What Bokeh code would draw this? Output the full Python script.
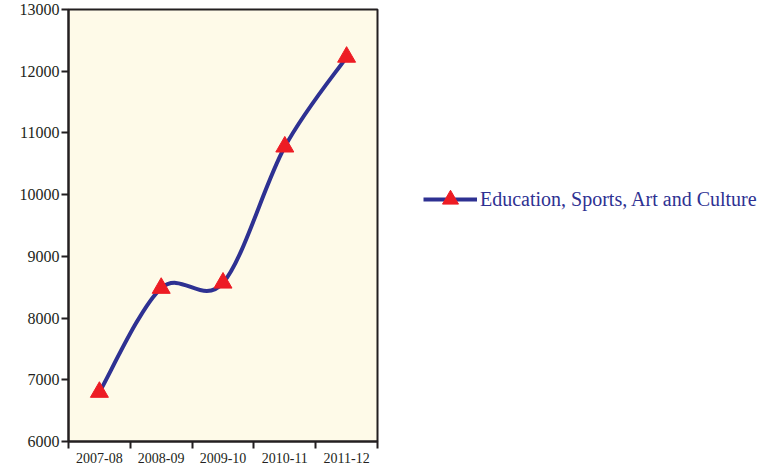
from bokeh.plotting import figure
from bokeh.models import Range1d, FixedTicker, Legend, LegendItem
from bokeh.embed import file_html
from bokeh.resources import INLINE

categories = ["2007-08", "2008-09", "2009-10", "2010-11", "2011-12"]
values = [6800, 8485, 8570, 10775, 12230]
y_ticks = [6000, 7000, 8000, 9000, 10000, 11000, 12000, 13000]
series_name = "Education, Sports, Art and Culture"

LINE = "#2E3192"
MARK = "#ED1C24"
SERIF = "Liberation Serif"

xs = [i + 0.5 for i in range(len(categories))]

p = figure(frame_width=309, frame_height=432, output_backend="svg", toolbar_location=None,
           x_range=Range1d(0, len(categories)), y_range=Range1d(6000, 13000),
           min_border_left=68, min_border_right=4, min_border_top=9, min_border_bottom=20)
p.background_fill_color = "#FEFAE8"
p.border_fill_color = "white"
p.outline_line_color = "#231F20"
p.outline_line_width = 2
p.grid.visible = False

# smooth line (Catmull-Rom style Bezier segments built from the data)
n = len(xs)
x0, y0, x1, y1, cx0, cy0, cx1, cy1 = [], [], [], [], [], [], [], []
for i in range(n - 1):
    pm = i - 1 if i > 0 else i
    pp = i + 2 if i + 2 < n else i + 1
    x0.append(xs[i]); y0.append(values[i])
    x1.append(xs[i + 1]); y1.append(values[i + 1])
    cx0.append(xs[i] + (xs[i + 1] - xs[pm]) / 6)
    cy0.append(values[i] + (values[i + 1] - values[pm]) / 6)
    cx1.append(xs[i + 1] - (xs[pp] - xs[i]) / 6)
    cy1.append(values[i + 1] - (values[pp] - values[i]) / 6)
curve = p.bezier(x0=x0, y0=y0, x1=x1, y1=y1, cx0=cx0, cy0=cy0, cx1=cx1, cy1=cy1,
                 line_color=LINE, line_width=4)
marks = p.scatter(xs, values, marker="triangle", size=18, fill_color=MARK,
                  line_color=MARK)

# x axis: labels at centres, ticks at category boundaries
xa = p.xaxis[0]
xa.ticker = FixedTicker(ticks=xs, minor_ticks=list(range(len(categories) + 1)))
xa.major_label_overrides = {x: c for x, c in zip(xs, categories)}
xa.major_tick_out = 0
xa.major_tick_in = 0
xa.minor_tick_out = 7
xa.minor_tick_in = 0
xa.minor_tick_line_color = "#231F20"
xa.minor_tick_line_width = 2
xa.axis_line_color = "#231F20"
xa.axis_line_width = 2
xa.major_label_text_font = SERIF
xa.major_label_text_font_size = "14px"
xa.major_label_text_color = "#231F20"
xa.major_label_standoff = 4

ya = p.yaxis[0]
ya.ticker = FixedTicker(ticks=y_ticks, minor_ticks=[])
ya.major_tick_out = 7
ya.major_tick_in = 0
ya.major_tick_line_color = "#231F20"
ya.major_tick_line_width = 2
ya.axis_line_color = "#231F20"
ya.axis_line_width = 2
ya.major_label_text_font = SERIF
ya.major_label_text_font_size = "16px"
ya.major_label_text_color = "#231F20"
ya.major_label_standoff = 2

legend = Legend(items=[LegendItem(label=series_name, renderers=[curve, marks])],
                location=(46, 222), border_line_color=None,
                background_fill_alpha=0, glyph_width=54, glyph_height=40,
                label_text_font=SERIF, label_text_font_size="20px",
                label_text_color=LINE, padding=0, margin=0, label_standoff=3)
p.add_layout(legend, "right")

open("out.html", "w").write(file_html(p, INLINE))
